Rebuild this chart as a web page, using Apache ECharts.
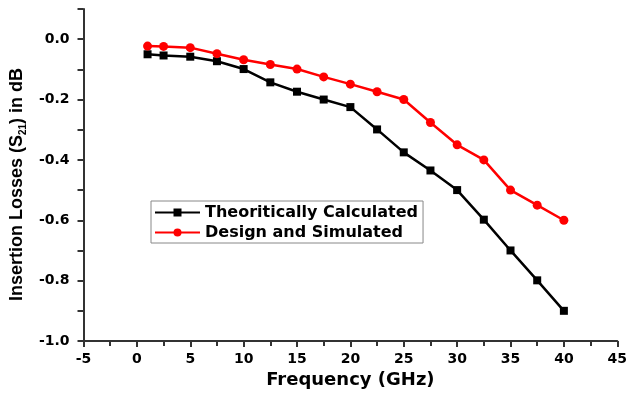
<!DOCTYPE html>
<html><head><meta charset="utf-8">
<script src="https://cdn.jsdelivr.net/npm/echarts@6/dist/echarts.min.js"></script>
<style>html,body{margin:0;padding:0;background:#fff}#c{width:630px;height:395px}</style>
</head><body><div id="c"></div>
<script>
const frequency = [1, 2.5, 5, 7.5, 10, 12.5, 15, 17.5, 20, 22.5, 25, 27.5, 30, 32.5, 35, 37.5, 40];
const theoretical = [-0.05, -0.054, -0.058, -0.073, -0.099, -0.143, -0.174, -0.2, -0.225, -0.299, -0.375, -0.435, -0.5, -0.598, -0.7, -0.799, -0.9];
const simulated = [-0.023, -0.024, -0.028, -0.048, -0.068, -0.084, -0.099, -0.125, -0.149, -0.174, -0.2, -0.276, -0.35, -0.4, -0.5, -0.55, -0.6];
const seriesNames = ['Theoritically Calculated', 'Design and Simulated'];
const xTitle = 'Frequency (GHz)';

const chart = echarts.init(document.getElementById('c'), null, {renderer: 'canvas'});
const tickFont = {fontFamily: 'DejaVu Sans', fontWeight: 'bold', fontSize: 14, color: '#000'};
const axisLine = {onZero: false, lineStyle: {color: '#333', width: 2}};
chart.setOption({
  animation: false,
  backgroundColor: '#fff',
  grid: {left: 82, right: 8, top: 9, bottom: 54},
  legend: {
    orient: 'vertical', left: 151, top: 201,
    itemWidth: 45, itemHeight: 10, itemGap: 3,
    padding: [3, 5, 2, 3],
    borderColor: '#888', borderWidth: 1,
    textStyle: {fontFamily: 'DejaVu Sans', fontWeight: 'bold', fontSize: 16, color: '#000', lineHeight: 17},
    data: seriesNames
  },
  xAxis: {
    type: 'value', min: -5, max: 45, interval: 5,
    axisLine: axisLine,
    axisTick: {show: true, inside: false, length: 6, lineStyle: {color: '#333', width: 2}},
    minorTick: {show: true, splitNumber: 2, length: 5, lineStyle: {color: '#333', width: 2}},
    splitLine: {show: false},
    axisLabel: Object.assign({margin: 11}, tickFont),
    name: xTitle, nameLocation: 'middle', nameGap: 20,
    nameTextStyle: {fontFamily: 'DejaVu Sans', fontWeight: 'bold', fontSize: 18, color: '#000', verticalAlign: 'top'}
  },
  yAxis: {
    type: 'value', min: -1.0, max: 0.1, interval: 0.1,
    axisLine: axisLine,
    axisTick: {show: true, inside: false, length: 6, lineStyle: {color: '#333', width: 2}},
    splitLine: {show: false},
    axisLabel: Object.assign({margin: 14, formatter: function (v) {
      const k = Math.round(v * 10);
      if (k % 2 !== 0 || k > 0) return '';
      return (k / 10).toFixed(1);
    }}, tickFont),
    name: '{a|Insertion Losses (S}{s|21}{a|) in dB}',
    nameLocation: 'middle', nameGap: 55, nameRotate: 90,
    nameTextStyle: {
      padding: [0, 19, 0, 0],
      rich: {
        a: {fontFamily: 'Liberation Sans', fontWeight: 'bold', fontSize: 18, color: '#000', lineHeight: 22, verticalAlign: 'middle'},
        s: {fontFamily: 'Liberation Sans', fontWeight: 'bold', fontSize: 10, color: '#000', lineHeight: 22, verticalAlign: 'bottom'}
      }
    }
  },
  series: [
    {
      name: seriesNames[0], type: 'line',
      data: frequency.map((f, i) => [f, theoretical[i]]),
      symbol: 'rect', symbolSize: 8,
      itemStyle: {color: '#000'},
      lineStyle: {color: '#000', width: 2.5}
    },
    {
      name: seriesNames[1], type: 'line',
      data: frequency.map((f, i) => [f, simulated[i]]),
      symbol: 'circle', symbolSize: 9,
      itemStyle: {color: '#ff0000'},
      lineStyle: {color: '#ff0000', width: 2.5}
    }
  ]
});
</script></body></html>
